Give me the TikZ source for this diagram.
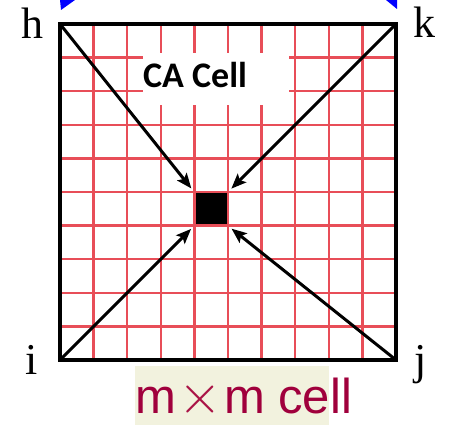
\documentclass[tikz,border=0pt]{standalone}
\usepackage{fontspec}
\usepackage{graphicx}
\setmainfont{Liberation Serif}
\newfontfamily\carlitofont{Carlito}
\newfontfamily\lsansfont{Liberation Sans}
\usetikzlibrary{arrows.meta}
\definecolor{gridred}{RGB}{232,78,88}
\definecolor{mmred}{RGB}{160,0,60}
\definecolor{mmlight}{RGB}{170,20,70}
\definecolor{beigebg}{RGB}{242,242,222}
\begin{document}
\begin{tikzpicture}[x=1pt,y=-1pt,
  gridline/.style={draw=gridred, line width=2.4pt},
  outline/.style={draw=black, line width=4.5pt},
  arr/.style={draw=black, line width=3pt, -{Stealth[length=15pt,width=12pt,inset=3pt]}, shorten >=3pt},
  cornerlabel/.style={anchor=base, inner sep=0pt, font=\fontsize{44}{44}\selectfont},
  cellbox/.style={fill=black, draw=gridred, line width=2.4pt, minimum size=33.6pt, inner sep=0pt},
  blueTip/.style={fill=blue}
]
\useasboundingbox (0,0) rectangle (452,425);
% grid
\foreach \k in {1,...,9} {
  \draw[gridline] ({60+33.6*\k},24) -- ({60+33.6*\k},360);
  \draw[gridline] (60,{24+33.6*\k}) -- (396,{24+33.6*\k});
}
% CA Cell label box
\node (cabox) [fill=white, inner sep=0pt, minimum width=146pt, minimum height=52pt] at (216,79) {};
\node (calabel) [anchor=base west, inner sep=0pt, font=\carlitofont\bfseries\fontsize{36}{36}\selectfont] at (143,88) {CA Cell};
% outline square
\coordinate (H) at (60,24);
\coordinate (K) at (396,24);
\coordinate (I) at (60,360);
\coordinate (J) at (396,360);
\draw[outline] (H) -- (K) -- (J) -- (I) -- cycle;
% centre cell
\node (cell) [cellbox] at (211.2,208.8) {};
% arrows
\draw[arr] (H) -- (cell.north west);
\draw[arr] (K) -- (cell.north east);
\draw[arr] (I) -- (cell.south west);
\draw[arr] (J) -- (cell.south east);
% corner labels
\node (h) [cornerlabel] at (32,39) {h};
\node (k) [cornerlabel] at (424.5,38) {k};
\node (i) [cornerlabel] at (32,374) {i};
\node (j) [cornerlabel] at (421,374) {j};
% blue tips
\fill[blueTip] (60,0) -- (75,0) -- (61,10) -- cycle;
\fill[blueTip] (386,0) -- (397,0) -- (397,9) -- cycle;
% m x m cell label
\node (mmbox) [fill=beigebg, inner sep=0pt, minimum width=194pt, minimum height=59pt] at (232,395.5) {};
\node (mmlabel) [anchor=base west, inner sep=0pt, text=mmred, font=\lsansfont\fontsize{49}{49}\selectfont] at (135,413) {m\hspace{2pt}{\color{mmlight}\fontsize{10}{10}\selectfont\scalebox{5.6}{$\times$}}\hspace{2.5pt}m cell};
\end{tikzpicture}
\end{document}
